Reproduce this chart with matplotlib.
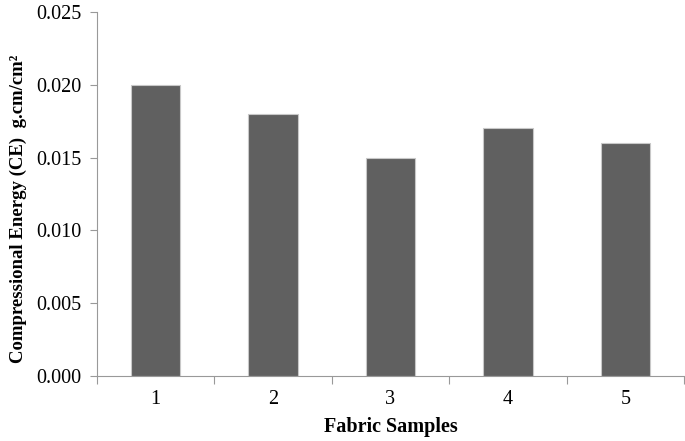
import numpy as np
import matplotlib
matplotlib.use('Agg')
import matplotlib.pyplot as plt

plt.rcParams['font.family'] = ['Liberation Serif', 'DejaVu Serif']

samples = ['1', '2', '3', '4', '5']
energy = [0.020, 0.018, 0.015, 0.017, 0.016]

fig = plt.figure(figsize=(6.85, 4.41), dpi=100)
ax = fig.add_axes([97/685, 1-376/441, 587/685, 364/441])

x = np.arange(len(samples))
ax.bar(x, energy, width=0.42, color='#606060', edgecolor='#c8c8c8', linewidth=0.8)

ax.set_xlim(-0.5, len(samples) - 0.5)
ax.set_ylim(0, 0.025)
ax.set_yticks(np.arange(0, 0.0251, 0.005))
ax.set_yticklabels(['%.3f' % v for v in np.arange(0, 0.0251, 0.005)], fontsize=14.5)

# category labels centred, tick marks between categories
ax.set_xticks(np.arange(-0.5, len(samples), 1.0))
ax.set_xticklabels([])
ax.set_xticks(x, minor=True)
ax.set_xticklabels(samples, minor=True, fontsize=14.5)
ax.tick_params(axis='x', which='minor', length=0, pad=10)
ax.tick_params(axis='x', which='major', length=6, color='#999999')
ax.tick_params(axis='y', length=5, color='#999999', pad=6)

for s in ['top', 'right']:
    ax.spines[s].set_visible(False)
for s in ['left', 'bottom']:
    ax.spines[s].set_color('#999999')

ax.set_xlabel('Fabric Samples', fontsize=14.5, fontweight='bold')
ax.xaxis.set_label_coords(0.5, -0.113)
ax.set_ylabel('Compressional Energy (CE)  g.cm/cm²', fontsize=13.5, fontweight='bold')
ax.yaxis.set_label_coords(-0.12, 0.46)

fig.savefig('out.png', dpi=100)
